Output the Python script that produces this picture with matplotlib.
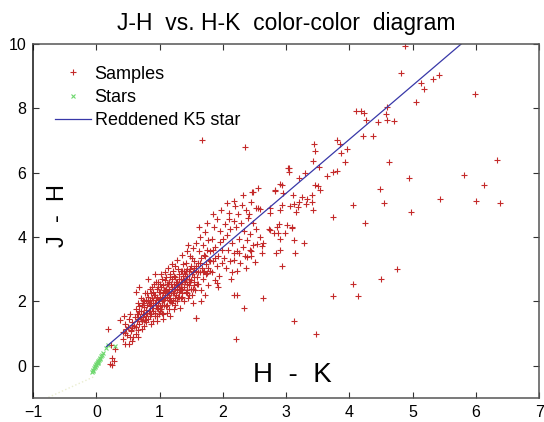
import matplotlib
matplotlib.use("Agg")
import matplotlib.pyplot as plt

plt.rcParams['font.family'] = ['Liberation Sans', 'DejaVu Sans']

# ---- data ----
# dense cloud of samples (H-K, J-H)
cloud = [
    (0.42, 1.05), (0.45, 1.30), (0.48, 0.95), (0.50, 1.20), (0.52, 1.45), (0.55, 1.10),
    (0.57, 1.35), (0.58, 0.90), (0.44, 1.55), (0.53, 1.62), (0.59, 1.25), (0.47, 1.15),
    (0.61, 1.50), (0.62, 1.20), (0.63, 1.75), (0.64, 1.40), (0.65, 1.95), (0.66, 1.62),
    (0.67, 1.30), (0.68, 1.85), (0.69, 1.52), (0.70, 2.10), (0.71, 1.70), (0.72, 1.40),
    (0.73, 1.95), (0.74, 1.60), (0.75, 1.25), (0.76, 1.82), (0.77, 2.25), (0.78, 1.55),
    (0.79, 1.72), (0.62, 2.30), (0.68, 2.45), (0.74, 2.05), (0.66, 1.10), (0.72, 1.15),
    (0.78, 1.35),
    (0.80, 1.90), (0.81, 1.45), (0.82, 2.15), (0.83, 1.70), (0.84, 2.40), (0.85, 1.55),
    (0.86, 1.95), (0.87, 2.25), (0.88, 1.80), (0.89, 1.40), (0.90, 2.05), (0.91, 2.55),
    (0.92, 1.65), (0.93, 2.20), (0.94, 1.88), (0.95, 2.40), (0.96, 1.55), (0.97, 2.05),
    (0.98, 1.75), (0.99, 2.30), (0.82, 2.70), (0.86, 1.30), (0.90, 1.70), (0.93, 2.85),
    (0.95, 1.40), (0.98, 2.60), (0.84, 1.85), (0.88, 2.10), (0.92, 1.95), (0.96, 2.15),
    (0.99, 1.60), (0.81, 2.00),
    (1.00, 2.10), (1.01, 1.70), (1.02, 2.45), (1.03, 1.90), (1.04, 2.70), (1.05, 2.25),
    (1.06, 1.60), (1.07, 2.05), (1.08, 2.90), (1.09, 2.35), (1.10, 1.85), (1.11, 2.55),
    (1.12, 2.15), (1.13, 3.05), (1.14, 1.75), (1.15, 2.40), (1.16, 2.00), (1.17, 2.75),
    (1.18, 2.25), (1.19, 1.95), (1.02, 2.85), (1.05, 1.45), (1.08, 2.20), (1.11, 1.65),
    (1.14, 2.60), (1.17, 2.10), (1.19, 3.15), (1.00, 2.55), (1.04, 2.00), (1.07, 2.35),
    (1.10, 2.75), (1.13, 2.30), (1.16, 1.55), (1.18, 2.55),
    (1.20, 2.45), (1.21, 2.05), (1.22, 2.80), (1.23, 2.25), (1.24, 3.10), (1.25, 1.90),
    (1.26, 2.60), (1.27, 2.35), (1.28, 3.30), (1.29, 2.15), (1.30, 2.70), (1.31, 2.45),
    (1.32, 1.80), (1.33, 2.95), (1.34, 2.55), (1.35, 3.45), (1.36, 2.25), (1.37, 2.80),
    (1.38, 2.00), (1.39, 2.65), (1.21, 2.95), (1.25, 2.40), (1.29, 3.00), (1.33, 2.10),
    (1.37, 3.15), (1.23, 1.75), (1.31, 2.85), (1.35, 2.40), (1.39, 2.95), (1.27, 2.60),
    (1.40, 2.85), (1.41, 2.30), (1.42, 3.20), (1.43, 2.55), (1.44, 3.55), (1.45, 2.10),
    (1.46, 2.95), (1.47, 2.70), (1.48, 3.40), (1.49, 2.40), (1.50, 3.10), (1.51, 2.85),
    (1.52, 1.95), (1.53, 3.65), (1.54, 2.60), (1.55, 3.25), (1.56, 2.35), (1.57, 2.95),
    (1.58, 3.80), (1.59, 2.75), (1.43, 3.00), (1.47, 2.20), (1.51, 3.35), (1.55, 2.50),
    (1.58, 1.48), (1.45, 3.75),
    (1.60, 3.20), (1.61, 2.55), (1.62, 3.55), (1.63, 2.90), (1.64, 4.00), (1.65, 2.35),
    (1.66, 3.35), (1.67, 3.05), (1.68, 3.75), (1.69, 2.70), (1.70, 3.45), (1.71, 2.20),
    (1.72, 4.15), (1.73, 3.15), (1.74, 2.85), (1.75, 3.60), (1.76, 2.50), (1.77, 3.90),
    (1.78, 3.30), (1.79, 2.95), (1.62, 4.30), (1.70, 2.95), (1.75, 4.45), (1.66, 2.00),
    (1.80, 3.55), (1.82, 2.90), (1.83, 3.95), (1.84, 3.25), (1.86, 4.30), (1.87, 2.65),
    (1.88, 3.70), (1.90, 3.10), (1.91, 4.55), (1.92, 3.40), (1.94, 2.80), (1.95, 3.85),
    (1.96, 4.20), (1.98, 3.20), (1.99, 3.60), (1.85, 4.70), (1.93, 2.45), (1.97, 4.85),
    (1.90, 2.56), (1.75, 2.87),
    (2.00, 3.95), (2.02, 3.35), (2.03, 4.40), (2.05, 3.05), (2.06, 4.05), (2.08, 3.60),
    (2.09, 4.75), (2.11, 3.25), (2.12, 4.25), (2.14, 3.80), (2.15, 2.90), (2.17, 4.50),
    (2.18, 3.50), (2.19, 4.95), (2.07, 5.05), (2.13, 2.70), (2.10, 4.55), (2.17, 3.29),
    (2.21, 4.30), (2.22, 3.55), (2.24, 4.70), (2.25, 3.95), (2.27, 3.20), (2.28, 4.45),
    (2.30, 5.00), (2.31, 3.70), (2.33, 4.20), (2.35, 3.40), (2.36, 4.85), (2.38, 3.90),
    (2.39, 4.60), (2.23, 2.95), (2.32, 5.30), (2.37, 3.05), (2.26, 3.49), (2.38, 3.39),
    (2.41, 4.70), (2.43, 4.10), (2.45, 5.10), (2.47, 3.75), (2.48, 4.45), (2.52, 4.90),
    (2.53, 4.25), (2.59, 4.00), (2.44, 3.40), (2.43, 3.60), (2.64, 3.80), (2.75, 4.22),
    (2.98, 4.12), (3.09, 4.32), (3.12, 3.91), (2.85, 4.32), (2.91, 3.60), (2.91, 5.66),
    (2.83, 5.45), (3.04, 6.13), (2.46, 5.40), (2.17, 5.11),
    # densest core
    (0.70, 1.45), (0.72, 1.88), (0.75, 1.62), (0.77, 1.42), (0.79, 2.05), (0.80, 1.65),
    (0.83, 1.95), (0.85, 2.05), (0.87, 1.60), (0.88, 2.45), (0.90, 1.90), (0.91, 2.20),
    (0.93, 1.55), (0.94, 2.05), (0.96, 1.80), (0.97, 2.45), (0.99, 2.05), (1.00, 1.85),
    (1.01, 2.30), (1.03, 2.15), (1.04, 1.65), (1.06, 2.50), (1.07, 1.90), (1.09, 2.10),
    (1.10, 2.40), (1.12, 1.90), (1.13, 2.55), (1.15, 2.20), (1.16, 2.85), (1.18, 2.00),
    (1.19, 2.40), (1.21, 2.25), (1.22, 2.55), (1.24, 2.10), (1.25, 2.75), (1.27, 2.00),
    (1.28, 2.50), (1.30, 2.30), (1.31, 2.15), (1.33, 2.70), (1.34, 2.35), (1.36, 2.95),
    (1.38, 2.45), (1.40, 2.60), (1.41, 2.95), (1.43, 2.35), (1.44, 2.80), (1.46, 2.50),
    (1.48, 3.00), (1.50, 2.65), (1.52, 2.40), (1.53, 2.90), (1.55, 2.75), (1.57, 3.10),
    (1.59, 2.55), (0.85, 1.70), (0.89, 2.30), (0.94, 2.60), (1.02, 1.75), (1.08, 2.65),
    (1.14, 2.05), (1.20, 2.70), (1.26, 2.20), (1.32, 2.40), (1.36, 2.60), (1.42, 2.70),
    (1.48, 2.60), (1.54, 3.05), (1.60, 2.90), (1.64, 3.20), (1.68, 2.90), (1.72, 3.40),
    (1.76, 3.05), (1.80, 3.25), (1.84, 3.60), (1.88, 3.35), (0.64, 1.60), (0.68, 1.70),
    (0.73, 1.50), (0.76, 2.00), (0.80, 2.25), (0.97, 1.95), (1.05, 2.05), (1.11, 2.25),
    (1.23, 2.45), (1.29, 2.55), (1.35, 2.15), (1.44, 2.25), (1.51, 2.20),
]

# scattered samples away from the main cloud
outliers = [
    (4.88, 9.92), (4.82, 9.10), (5.13, 8.77), (5.18, 8.61), (5.33, 8.92), (5.42, 9.02),
    (5.06, 8.19), (5.99, 8.43), (4.10, 7.92), (4.18, 7.92), (4.23, 7.84), (4.27, 7.65),
    (4.46, 7.56), (4.59, 7.63), (4.70, 7.60), (4.58, 7.83), (4.60, 8.04), (4.21, 7.13),
    (4.38, 7.14), (3.44, 6.90), (3.45, 6.67), (3.42, 6.35), (3.81, 7.00), (3.85, 6.88),
    (3.97, 6.74), (3.87, 6.60), (3.93, 6.32), (4.63, 6.33), (3.03, 6.15), (3.04, 6.02),
    (3.52, 6.19), (3.65, 5.91), (3.74, 6.02), (3.81, 6.05), (3.30, 5.99), (3.20, 5.84),
    (2.93, 5.63), (2.82, 5.44), (2.95, 5.38), (2.55, 5.52), (2.48, 5.41), (3.46, 5.62),
    (3.51, 5.58), (3.53, 5.46), (3.11, 5.31), (3.21, 5.10), (3.33, 5.19), (3.41, 5.30),
    (3.25, 5.23), (3.41, 5.10), (3.42, 4.83), (3.31, 5.03), (3.12, 5.02), (3.06, 4.95),
    (2.94, 4.98), (2.91, 4.85), (2.74, 4.91), (2.75, 4.76), (2.58, 4.87), (2.56, 4.90),
    (3.18, 4.92), (3.16, 4.78), (3.74, 4.63), (4.24, 4.42), (4.06, 5.00), (4.54, 5.07),
    (4.49, 5.50), (4.95, 5.84), (4.98, 4.78), (5.44, 5.18), (5.82, 5.93), (6.00, 5.11),
    (6.13, 5.62), (6.33, 6.38), (6.38, 5.06), (2.88, 4.40), (3.01, 4.38), (3.10, 4.29),
    (3.29, 3.81), (3.14, 3.49), (2.94, 3.11), (4.75, 3.01), (4.50, 2.69), (4.05, 2.53),
    (3.74, 2.17), (4.13, 2.17), (2.63, 2.11), (3.13, 1.39), (3.48, 0.98), (2.90, 3.95),
    (2.84, 3.49), (2.62, 3.49), (2.50, 3.21), (2.81, 4.13), (2.87, 4.13), (2.73, 4.26),
    (2.54, 3.77), (2.62, 3.72), (2.45, 3.55), (2.35, 6.79), (1.67, 7.00),
    (2.20, 0.83), (2.33, 1.79), (2.23, 2.21), (1.58, 1.48), (2.17, 2.19),
    (0.19, 1.15), (0.23, 0.63), (0.30, 0.52), (0.24, 0.25), (0.28, 0.16), (0.21, 0.05),
    (0.25, 0.02), (0.38, 1.41), (0.45, 0.68), (0.51, 0.68), (0.57, 0.78), (0.65, 0.88),
    (0.42, 0.83), (0.53, 0.88), (0.54, 1.08), (0.63, 0.98), (0.45, 1.03), (0.56, 1.27),
    (0.57, 1.17), (0.65, 1.45),
]

samples_hk = [p[0] for p in cloud + outliers]
samples_jh = [p[1] for p in cloud + outliers]

# main-sequence stars near the origin
stars_hk = [-0.07, -0.06, -0.05, -0.04, -0.03, -0.02, 0.00, 0.00, 0.01, 0.02, 0.03,
            0.03, 0.04, 0.05, 0.06, 0.08, 0.09, 0.11, 0.15, 0.18, 0.30]
stars_jh = [-0.18, -0.15, -0.12, -0.08, -0.03, 0.00, 0.02, 0.05, 0.08, 0.12, 0.10,
            0.15, 0.18, 0.22, 0.25, 0.30, 0.34, 0.39, 0.55, 0.63, 0.60]

# reddening vector of a K5 star
k5_hk = [0.16, 5.77]
k5_jh = [0.60, 10.0]

# faint intrinsic locus below the stars
locus_hk = [-0.05, -0.78]
locus_jh = [-0.35, -1.0]

fig = plt.figure(figsize=(5.44, 4.22), dpi=100)
ax = fig.add_axes([0.061, 0.057, 0.930, 0.839])

ax.plot(locus_hk, locus_jh, ':', color='#eaedd0', lw=1.0)
ax.plot(samples_hk, samples_jh, '+', color='#c42a2a', ms=4.5, mew=0.8, label='Samples')
ax.plot(stars_hk, stars_jh, 'x', color='#6ed86e', ms=3.5, mew=0.8, label='Stars')
ax.plot(k5_hk, k5_jh, '-', color='#3838a8', lw=0.9, label='Reddened K5 star')

ax.set_xlim(-1, 7)
ax.set_ylim(-1, 10)
ax.set_xticks(range(-1, 8))
ax.set_yticks(range(0, 11, 2))
ax.tick_params(direction='in', top=True, right=True, labelsize=11.5, length=4,
               color='#333333', pad=5)
for s in ax.spines.values():
    s.set_color('#555555')
    s.set_linewidth(1.1)
ax.spines['left'].set_color('#111111')

ax.set_title('J-H  vs. H-K  color-color  diagram', fontsize=16.5, pad=10)
ax.text(-0.6, 4.68, 'J  -  H', rotation=90, fontsize=17, ha='center', va='center')
ax.text(3.1, -0.3, 'H  -  K', fontsize=20, ha='center', va='center')

ax.legend(loc='upper left', frameon=False, fontsize=13, handlelength=2.0,
          handletextpad=0.2, labelspacing=0.35, borderaxespad=0.8)

fig.savefig('out.png', dpi=100)
